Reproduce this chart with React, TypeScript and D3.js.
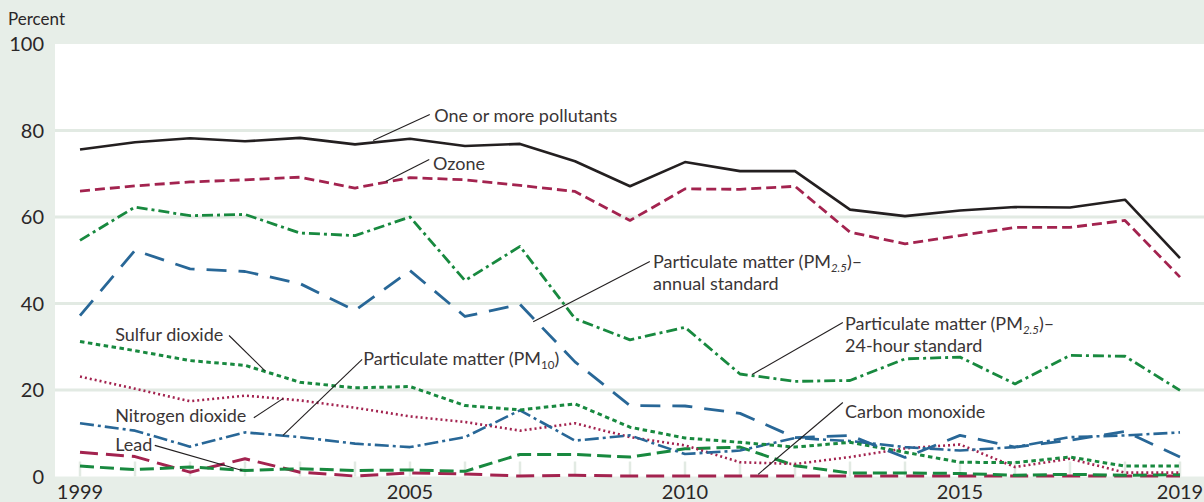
import React from "react";
import * as d3 from "d3";

const years = [1999, 2000, 2001, 2002, 2003, 2004, 2005, 2006, 2007, 2008, 2009, 2010, 2011, 2012, 2013, 2014, 2015, 2016, 2017, 2018, 2019];

const onePlus = [75.6, 77.3, 78.2, 77.5, 78.3, 76.8, 78.1, 76.4, 76.9, 72.9, 67.1, 72.7, 70.6, 70.6, 61.7, 60.2, 61.5, 62.3, 62.2, 64.0, 50.5];
const ozone = [66.0, 67.2, 68.1, 68.6, 69.2, 66.7, 69.1, 68.6, 67.3, 65.9, 59.2, 66.5, 66.4, 67.1, 56.5, 53.8, 55.7, 57.6, 57.6, 59.2, 46.1];
const pm25Day = [54.6, 62.3, 60.3, 60.6, 56.3, 55.7, 60.0, 45.3, 53.2, 36.5, 31.6, 34.5, 23.7, 22.0, 22.2, 27.2, 27.6, 21.4, 28.0, 27.8, 19.9];
const pm25Annual = [37.2, 52.3, 48.0, 47.4, 44.6, 38.4, 47.6, 37.0, 39.8, 26.5, 16.4, 16.3, 14.6, 9.0, 9.5, 4.4, 9.5, 6.8, 8.4, 10.4, 4.5];
const sulfur = [31.2, 29.1, 26.8, 25.7, 21.8, 20.5, 20.8, 16.4, 15.4, 16.8, 11.4, 8.9, 7.9, 6.8, 7.9, 5.6, 3.3, 3.2, 4.5, 2.4, 2.4];
const nitrogen = [23.1, 20.3, 17.4, 18.7, 17.6, 15.9, 13.9, 12.6, 10.6, 12.3, 9.1, 7.2, 3.3, 2.9, 4.5, 6.5, 7.4, 2.2, 4.1, 0.9, 0.9];
const pm10 = [12.3, 10.6, 6.9, 10.2, 9.1, 7.6, 6.8, 9.1, 15.3, 8.3, 9.5, 5.2, 6.0, 8.9, 8.2, 6.8, 6.0, 6.8, 9.1, 9.5, 10.2];
const lead = [2.4, 1.6, 2.2, 1.4, 1.8, 1.4, 1.5, 1.2, 5.1, 5.1, 4.5, 6.4, 6.8, 2.5, 0.8, 0.8, 0.7, 0.3, 0.5, 0.3, 0.4];
const carbon = [5.6, 4.6, 1.0, 4.1, 1.0, 0.1, 0.8, 0.6, 0.1, 0.3, 0.1, 0.1, 0.1, 0.1, 0.1, 0.1, 0.1, 0.1, 0.1, 0.1, 0.1];

const yTicks = [0, 20, 40, 60, 80, 100];
const xTickLabels = [1999, 2005, 2010, 2015, 2019];

const BLACK = "#231f20";
const MAROON = "#a3234f";
const GREEN = "#18893f";
const BLUE = "#286797";

const series = [
  { key: "carbon", values: carbon, color: MAROON, dash: "18,8", width: 3 },
  { key: "lead", values: lead, color: GREEN, dash: "14,6", width: 3 },
  { key: "nitrogen", values: nitrogen, color: MAROON, dash: "2,3", width: 2.6 },
  { key: "pm10", values: pm10, color: BLUE, dash: "14,4,3,4", width: 2.6 },
  { key: "sulfur", values: sulfur, color: GREEN, dash: "4.5,3.5", width: 3 },
  { key: "pm25Annual", values: pm25Annual, color: BLUE, dash: "20,12", width: 2.8 },
  { key: "pm25Day", values: pm25Day, color: GREEN, dash: "11,4,3,4", width: 2.8 },
  { key: "ozone", values: ozone, color: MAROON, dash: "10,5", width: 2.8 },
  { key: "onePlus", values: onePlus, color: BLACK, dash: "", width: 2.6 },
];

type Ann = {
  lines: { text: string; sub?: string; italic?: boolean; after?: string }[];
  p1: [number, number];
  p2: [number, number];
  t: [number, number];
};

const annotations: Ann[] = [
  { lines: [{ text: "One or more pollutants" }], p1: [2004.33, 77.7], p2: [2005.36, 83.7], t: [2005.44, 82.0] },
  { lines: [{ text: "Ozone" }], p1: [2004.56, 68.2], p2: [2005.35, 73.3], t: [2005.42, 70.8] },
  { lines: [{ text: "Particulate matter (PM", sub: "2.5", italic: true, after: ")–" }, { text: "annual standard" }], p1: [2007.24, 35.8], p2: [2009.36, 49.7], t: [2009.42, 48.3] },
  { lines: [{ text: "Particulate matter (PM", sub: "2.5", italic: true, after: ")–" }, { text: "24-hour standard" }], p1: [2011.22, 23.6], p2: [2012.87, 35.6], t: [2012.91, 33.8] },
  { lines: [{ text: "Sulfur dioxide" }], p1: [2002.36, 24.5], p2: [2001.71, 32.6], t: [1999.64, 31.4] },
  { lines: [{ text: "Nitrogen dioxide" }], p1: [2002.69, 18.0], p2: [2002.16, 13.6], t: [1999.64, 12.7] },
  { lines: [{ text: "Particulate matter (PM", sub: "10", after: ")" }], p1: [2002.69, 9.5], p2: [2004.13, 27.1], t: [2004.15, 25.7] },
  { lines: [{ text: "Lead" }], p1: [2001.95, 1.4], p2: [2000.36, 7.2], t: [1999.64, 6.0] },
  { lines: [{ text: "Carbon monoxide" }], p1: [2011.33, 0.5], p2: [2012.87, 17.1], t: [2012.91, 13.6] },
];

const W = 1204;
const H = 502;
const FONT = "Lato, 'Noto Sans', sans-serif";

export default function App() {
  const plotLeft = 55;
  const plotRight = 1204;
  const x = d3.scaleLinear().domain([1999, 2019]).range([80, 1180]);
  const y = d3.scaleLinear().domain([0, 100]).range([476.5, 44]);
  const line = d3
    .line<number>()
    .x((_, i) => x(years[i]))
    .y((v) => y(v));

  return (
    <svg width={W} height={H} style={{ position: "absolute", left: 0, top: 0 }} fontFamily={FONT}>
      <rect x={0} y={0} width={W} height={H} fill="#e7eee8" />
      <rect x={plotLeft} y={y(100)} width={plotRight - plotLeft} height={y(0) - y(100)} fill="#ffffff" />
      {yTicks.slice(1, -1).map((t) => (
        <line key={t} x1={plotLeft} x2={plotRight} y1={y(t)} y2={y(t)} stroke="#e2eae3" strokeWidth={3} />
      ))}
      {years.map((yr) => (
        <line key={yr} x1={x(yr)} x2={x(yr)} y1={y(0) - 15} y2={y(0)} stroke="#e2eae3" strokeWidth={2.5} />
      ))}
      {series.map((s) => (
        <path
          key={s.key}
          d={line(s.values) || ""}
          fill="none"
          stroke={s.color}
          strokeWidth={s.width}
          strokeDasharray={s.dash || undefined}
          strokeLinejoin="round"
        />
      ))}
      {annotations.map((a, i) => (
        <g key={i}>
          <line x1={x(a.p1[0])} y1={y(a.p1[1])} x2={x(a.p2[0])} y2={y(a.p2[1])} stroke={BLACK} strokeWidth={1.1} />
          {a.lines.map((l, j) => (
            <text key={j} x={x(a.t[0])} y={y(a.t[1]) + j * 22} fontSize={18} fill="#3a3536">
              <tspan>{l.text}</tspan>
              {l.sub ? (
                <tspan fontSize={11.5} dy="4" fontStyle={l.italic ? "italic" : "normal"}>
                  {l.sub}
                </tspan>
              ) : null}
              {l.after ? <tspan dy={l.sub ? "-4" : "0"}>{l.after}</tspan> : null}
            </text>
          ))}
        </g>
      ))}
      {yTicks.map((t) => (
        <text key={t} x={44} y={y(t)} dy="0.35em" textAnchor="end" fontSize={20} fill="#2b2728">
          {t}
        </text>
      ))}
      {xTickLabels.map((t) => (
        <text key={t} x={x(t)} y={492} dy="0.35em" textAnchor="middle" fontSize={20} fill="#2b2728">
          {t}
        </text>
      ))}
      <text x={8} y={25} fontSize={17} fill="#2b2728">
        Percent
      </text>
    </svg>
  );
}
